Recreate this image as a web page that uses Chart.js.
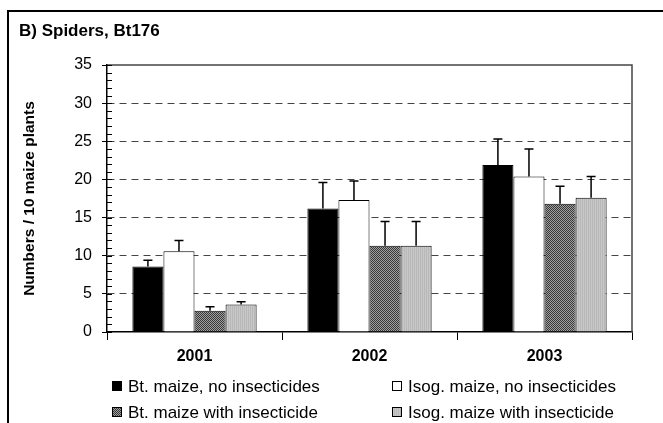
<!DOCTYPE html>
<html>
<head>
<meta charset="utf-8">
<script src="https://cdn.jsdelivr.net/npm/chart.js@4"></script>
<style>
  html, body { margin: 0; padding: 0; background: #fff; }
  #wrap { width: 663px; height: 423px; position: relative; }
</style>
</head>
<body>
<div id="wrap"><canvas id="grafico"></canvas></div>
<script>
// dati
var anni = ['2001', '2002', '2003'];
var nomiSerie = ['Bt. maize, no insecticides', 'Isog. maize, no insecticides',
                 'Bt. maize with insecticide', 'Isog. maize with insecticide'];
var btNoIns    = [8.6, 16.2, 21.9];
var isogNoIns  = [10.6, 17.3, 20.4];
var btIns      = [2.8, 11.3, 16.8];
var isogIns    = [3.6, 11.3, 17.6];
// errori (solo verso l'alto)
var errBtNoIns   = [0.8, 3.4, 3.4];
var errIsogNoIns = [1.4, 2.5, 3.6];
var errBtIns     = [0.5, 3.2, 2.3];
var errIsogIns   = [0.35, 3.2, 2.8];
var yTicks = [0, 5, 10, 15, 20, 25, 30, 35];

var FONT = "'Liberation Sans', Arial, sans-serif";

// pattern per le barre retinate
function patternScuro() {
  var c = document.createElement('canvas');
  c.width = 2; c.height = 2;
  var x = c.getContext('2d');
  x.fillStyle = '#a0a0a0'; x.fillRect(0, 0, 2, 2);
  x.fillStyle = '#383838'; x.fillRect(0, 0, 1, 1); x.fillRect(1, 1, 1, 1);
  return x.createPattern(c, 'repeat');
}
function patternChiaro() {
  var c = document.createElement('canvas');
  c.width = 2; c.height = 2;
  var x = c.getContext('2d');
  x.fillStyle = '#c8c8c8'; x.fillRect(0, 0, 2, 2);
  x.fillStyle = '#b8b8b8'; x.fillRect(0, 0, 1, 2);
  return x.createPattern(c, 'repeat');
}

var coloriSerie = ['#000000', '#ffffff', patternScuro(), patternChiaro()];
var valori = [btNoIns, isogNoIns, btIns, isogIns];
var errori = [errBtNoIns, errIsogNoIns, errBtIns, errIsogIns];

var datasets = [];
for (var i = 0; i < valori.length; i++) {
  datasets.push({
    label: nomiSerie[i],
    data: valori[i],
    errori: errori[i],
    backgroundColor: coloriSerie[i],
    borderColor: '#000',
    borderWidth: 1,
    categoryPercentage: 0.71,
    barPercentage: 1.0
  });
}

// cornice, titolo, tacche minori, barre d'errore, legenda
var extra = {
  id: 'extra',
  beforeDraw: function (chart) {
    var ctx = chart.ctx;
    ctx.save();
    ctx.fillStyle = '#fff';
    ctx.fillRect(0, 0, chart.width, chart.height);
    ctx.strokeStyle = '#000';
    ctx.lineWidth = 2;
    ctx.beginPath();
    ctx.moveTo(8, 423); ctx.lineTo(8, 11); ctx.lineTo(663, 11);
    ctx.stroke();
    ctx.fillStyle = '#000';
    ctx.font = 'bold 17px ' + FONT;
    ctx.textBaseline = 'alphabetic';
    ctx.fillText('B) Spiders, Bt176', 19, 36);
    ctx.restore();
  },
  afterDraw: function (chart) {
    var ctx = chart.ctx;
    var a = chart.chartArea;
    var y = chart.scales.y;
    ctx.save();
    // bordo area grafico (sopra e destra)
    ctx.strokeStyle = '#444';
    ctx.lineWidth = 1.5;
    ctx.beginPath();
    ctx.moveTo(a.left, a.top); ctx.lineTo(a.right, a.top); ctx.lineTo(a.right, a.bottom);
    ctx.stroke();
    // tacche minori
    ctx.strokeStyle = '#000';
    ctx.lineWidth = 1;
    ctx.beginPath();
    for (var v = 0; v <= 35; v++) {
      var py = Math.round(y.getPixelForValue(v)) + 0.5;
      ctx.moveTo(a.left, py);
      ctx.lineTo(a.left + 5, py);
    }
    ctx.stroke();
    // barre d'errore
    ctx.lineWidth = 1.5;
    chart.data.datasets.forEach(function (ds, di) {
      var meta = chart.getDatasetMeta(di);
      meta.data.forEach(function (bar, k) {
        var top = y.getPixelForValue(ds.data[k] + ds.errori[k]);
        ctx.beginPath();
        ctx.moveTo(bar.x, bar.y);
        ctx.lineTo(bar.x, top);
        ctx.moveTo(bar.x - 4.5, top);
        ctx.lineTo(bar.x + 4.5, top);
        ctx.stroke();
      });
    });
    // legenda
    var pos = [[112, 386], [392, 386], [112, 412], [392, 412]];
    ctx.font = '17px ' + FONT;
    ctx.textBaseline = 'middle';
    ctx.lineWidth = 1;
    chart.data.datasets.forEach(function (ds, di) {
      var p = pos[di];
      ctx.fillStyle = ds.backgroundColor;
      ctx.fillRect(p[0], p[1] - 5, 10, 10);
      ctx.strokeStyle = '#000';
      ctx.strokeRect(p[0] + 0.5, p[1] - 4.5, 9, 9);
      ctx.fillStyle = '#000';
      ctx.fillText(ds.label, p[0] + 16, p[1] + 1);
    });
    ctx.restore();
  }
};

var myChart = new Chart(document.getElementById('grafico'), {
  type: 'bar',
  data: { labels: anni, datasets: datasets },
  plugins: [extra],
  options: {
    responsive: true,
    maintainAspectRatio: false,
    animation: false,
    layout: { padding: { left: 8, top: 65, right: 31, bottom: 61 } },
    plugins: { legend: { display: false }, tooltip: { enabled: false } },
    scales: {
      x: {
        afterFit: function (s) { s.height = 30; },
        grid: { offset: true, drawOnChartArea: false, drawTicks: true, tickLength: 8, tickColor: '#000', color: '#000' },
        border: { color: '#000', width: 1.5 },
        ticks: { color: '#000', padding: 7, font: { family: FONT, size: 16, weight: 'bold' } }
      },
      y: {
        min: 0, max: 35,
        afterFit: function (s) { s.width = 99; },
        afterBuildTicks: function (s) { s.ticks = yTicks.map(function (v) { return { value: v }; }); },
        grid: {
          color: function (c) { return (c.tick && (c.tick.value === 0 || c.tick.value === 35)) ? 'rgba(0,0,0,0)' : '#444'; },
          lineWidth: 1,
          tickColor: '#000',
          tickLength: 5,
          tickBorderDash: []
        },
        border: { color: '#000', width: 1.5, dash: [7, 5] },
        ticks: { color: '#000', padding: 10, font: { family: FONT, size: 16 } },
        title: {
          display: true,
          text: 'Numbers / 10 maize plants',
          color: '#000',
          padding: { top: 12, bottom: 0 },
          font: { family: FONT, size: 15.5, weight: 'bold' }
        }
      }
    }
  }
});
</script>
</body>
</html>
